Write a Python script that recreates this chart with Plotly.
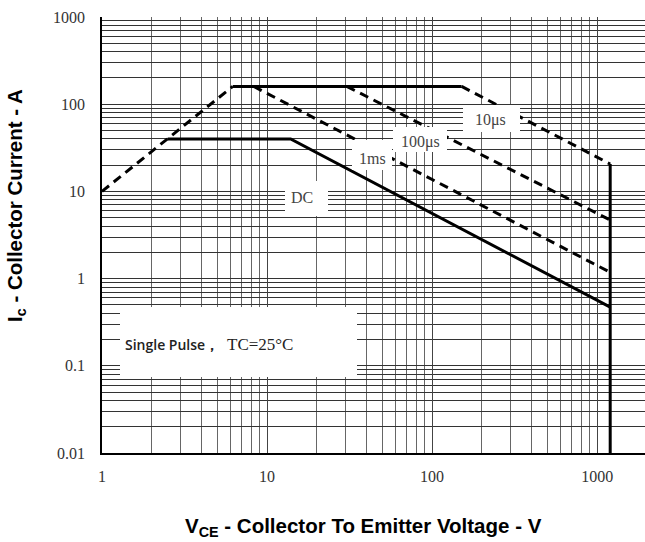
import math
import plotly.graph_objects as go

# ---------------- data ----------------
rise_v = [1, 6.2]            # pulse rise (dashed)
rise_i = [10, 160]
flat_v = [6.2, 151]          # current limit (solid)
flat_i = [160, 160]
us10_v = [151, 1200]         # 10 us (dashed)
us10_i = [160, 20.6]
us100_v = [30.4, 1200]       # 100 us (dashed)
us100_i = [160, 4.7]
ms1_v = [8.3, 1200]          # 1 ms (dashed)
ms1_i = [160, 1.18]
dc_v = [2.5, 13.9, 1200]     # DC (solid)
dc_i = [40, 40, 0.47]
vmax_v = [1200, 1200]        # voltage limit (solid)
vmax_i = [20.6, 0.01]

x_tickvals = [1, 10, 100, 1000]
x_ticktext = ["1", "10", "100", "1000"]
y_tickvals = [0.01, 0.1, 1, 10, 100, 1000]
y_ticktext = ["0.01", "0.1", "1", "10", "100", "1000"]

labels = ["DC", "10μs", "100μs", "1ms"]

# ---------------- layout helpers ----------------
W, H = 645, 542
L, R, T, B = 102, 0, 17, 89
PW, PH = W - L - R, H - T - B


def px(x):
    return (x - L) / PW


def py(y):
    return (H - B - y) / PH


SERIF = "Liberation Serif, Times New Roman, serif"
SANS = "Liberation Sans, Arial, sans-serif"

minor_x = [k * 10 ** d for d in range(0, 4) for k in range(2, 10)]
minor_y = [k * 10 ** d for d in range(-2, 3) for k in range(2, 10)]

fig = go.Figure()

solid = dict(color="black", width=3)
dashed = dict(color="black", width=3, dash="9px,6px")

fig.add_trace(go.Scatter(x=rise_v, y=rise_i, mode="lines", line=dashed))
fig.add_trace(go.Scatter(x=flat_v, y=flat_i, mode="lines", line=solid))
fig.add_trace(go.Scatter(x=us10_v, y=us10_i, mode="lines", line=dashed))
fig.add_trace(go.Scatter(x=us100_v, y=us100_i, mode="lines", line=dashed))
fig.add_trace(go.Scatter(x=ms1_v, y=ms1_i, mode="lines", line=dashed))
fig.add_trace(go.Scatter(x=dc_v, y=dc_i, mode="lines", line=solid))
fig.add_trace(go.Scatter(x=vmax_v, y=vmax_i, mode="lines", line=solid))

boxes = [
    (285, 181, 328, 216),   # DC
    (463, 105, 520, 132),   # 10us
    (393, 127, 447, 152),   # 100us
    (352, 140, 392, 170),   # 1ms
    (120, 307, 357, 377),   # Single pulse
]
shapes = []
for x0, y0, x1, y1 in boxes:
    shapes.append(dict(type="rect", xref="paper", yref="paper",
                       x0=px(x0), x1=px(x1), y0=py(y1), y1=py(y0),
                       fillcolor="white", line=dict(width=0), layer="above"))

label_pos = [(301.7, 197), (491, 120), (420, 142), (372, 158)]
annotations = []
for txt, (lx, ly) in zip(labels, label_pos):
    annotations.append(dict(text=txt, xref="paper", yref="paper", x=px(lx), y=py(ly),
                            showarrow=False, xanchor="center", yanchor="middle",
                            font=dict(family=SERIF, size=16, color="#444")))

annotations.append(dict(text="Single Pulse，", xref="paper", yref="paper",
                        x=px(123), y=py(345), showarrow=False, xanchor="left", yanchor="middle",
                        font=dict(family="Open Sans, sans-serif", size=14, color="#222", weight=600)))
annotations.append(dict(text="TC=25°C", xref="paper", yref="paper",
                        x=px(225), y=py(345), showarrow=False, xanchor="left", yanchor="middle",
                        font=dict(family=SERIF, size=17, color="#222")))

annotations.append(dict(text="V<sub>CE</sub> - Collector To Emitter Voltage - V",
                        xref="paper", yref="paper", x=px(363), y=py(527),
                        showarrow=False, xanchor="center", yanchor="middle",
                        font=dict(family=SANS, size=20.5, color="black", weight="bold")))
annotations.append(dict(text="I<sub>c</sub> - Collector Current - A",
                        xref="paper", yref="paper", x=px(16), y=py(206),
                        showarrow=False, xanchor="center", yanchor="middle", textangle=-90,
                        font=dict(family=SANS, size=20.5, color="black", weight="bold")))

fig.update_layout(
    width=W, height=H,
    margin=dict(l=L, r=R, t=T, b=B, pad=0),
    paper_bgcolor="white", plot_bgcolor="white",
    showlegend=False,
    shapes=shapes,
    annotations=annotations,
    xaxis=dict(type="log", range=[0, math.log10(1950)],
               tickmode="array", tickvals=x_tickvals, ticktext=x_ticktext,
               showgrid=True, gridcolor="#444", gridwidth=1,
               minor=dict(tickmode="array", tickvals=minor_x, showgrid=True,
                          gridcolor="#666", gridwidth=1),
               showline=True, linecolor="black", linewidth=1.5,
               ticks="", ticklabelstandoff=8,
               tickfont=dict(family=SERIF, size=16, color="#333"),
               zeroline=False),
    yaxis=dict(type="log", range=[-2, 3],
               tickmode="array", tickvals=y_tickvals, ticktext=y_ticktext,
               showgrid=True, gridcolor="#333", gridwidth=1,
               minor=dict(tickmode="array", tickvals=minor_y, showgrid=True,
                          gridcolor="#333", gridwidth=1),
               showline=True, linecolor="black", linewidth=1.5,
               ticks="", ticklabelstandoff=12,
               tickfont=dict(family=SERIF, size=16, color="#333"),
               zeroline=False),
)

fig.write_html("out.html")
